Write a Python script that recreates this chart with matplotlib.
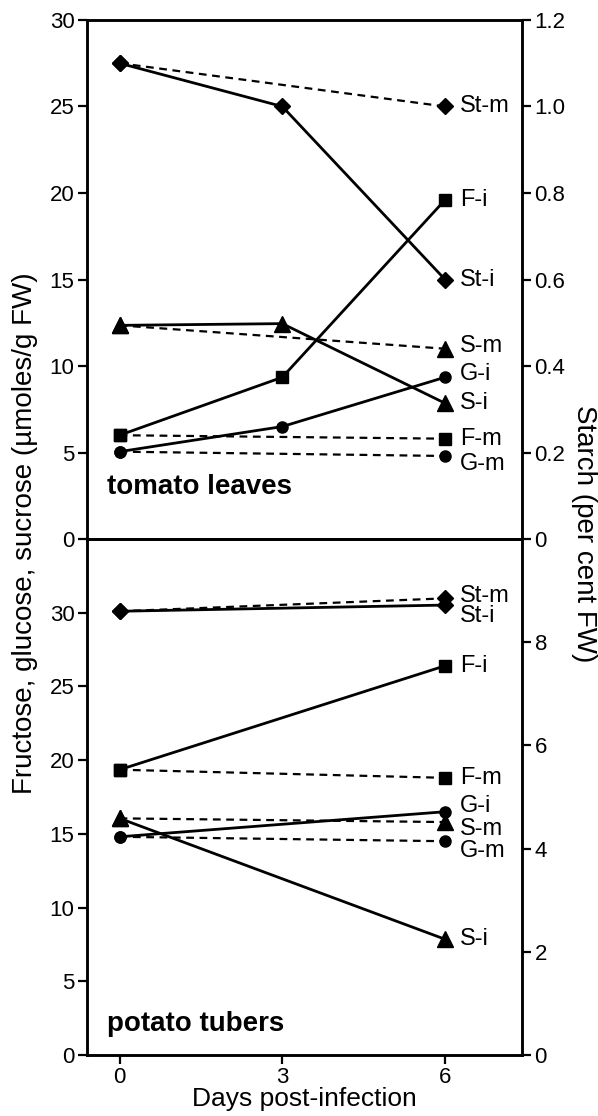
import numpy as np
import matplotlib.pyplot as plt

plt.rcParams['font.family'] = ['Liberation Sans', 'DejaVu Sans']

# days post-infection
days_i = [0, 3, 6]
days_m = [0, 6]
days_tub = [0, 6]

# tomato leaves: sugars (umoles/g FW), starch (per cent FW)
leaf_F_i = [6.0, 9.35, 19.6]
leaf_F_m = [6.0, 5.8]
leaf_G_i = [5.05, 6.5, 9.35]
leaf_G_m = [5.05, 4.8]
leaf_S_i = [12.35, 12.45, 7.85]
leaf_S_m = [12.35, 11.0]
leaf_St_i = [1.1, 1.0, 0.6]
leaf_St_m = [1.1, 1.0]

# potato tubers
tub_F_i = [19.35, 26.4]
tub_F_m = [19.35, 18.8]
tub_G_i = [14.8, 16.5]
tub_G_m = [14.8, 14.5]
tub_S_i = [16.05, 7.85]
tub_S_m = [16.05, 15.8]
tub_St_i = [8.6, 8.72]
tub_St_m = [8.6, 8.85]

left_ticks = [0, 5, 10, 15, 20, 25, 30]
leaf_right_ticks = [0, 0.2, 0.4, 0.6, 0.8, 1.0, 1.2]
leaf_right_labels = ['0', '0.2', '0.4', '0.6', '0.8', '1.0', '1.2']
tub_right_ticks = [0, 2, 4, 6, 8]
x_ticks = [0, 3, 6]

fig = plt.figure(figsize=(5.98, 11.16), dpi=100)
L, W = 0.1455, 0.7275
ax1 = fig.add_axes([L, 0.517, W, 0.4651])
ax2 = fig.add_axes([L, 0.0547, W, 0.4623])
ax1r = ax1.twinx()
ax2r = ax2.twinx()

solid = dict(color='black', lw=2.0, ls='-')
dash = dict(color='black', lw=1.6, dashes=(3.5, 2.5))
mk = {'F': dict(marker='s', ms=9), 'G': dict(marker='o', ms=8),
      'S': dict(marker='^', ms=12), 'St': dict(marker='D', ms=8)}

def series(ax, x, y, kind, style, label, dy=0):
    ax.plot(x, y, **style, **mk[kind], mfc='black', mec='black', clip_on=False)
    ax.annotate(label, xy=(x[-1], y[-1]), xytext=(11, dy), textcoords='offset points',
                va='center', ha='left', fontsize=17)

# top panel
series(ax1r, days_m, leaf_St_m, 'St', dash, 'St-m')
series(ax1r, days_i, leaf_St_i, 'St', solid, 'St-i')
series(ax1, days_m, leaf_S_m, 'S', dash, 'S-m', 1.7)
series(ax1, days_i, leaf_S_i, 'S', solid, 'S-i')
series(ax1, days_m, leaf_F_m, 'F', dash, 'F-m')
series(ax1, days_i, leaf_F_i, 'F', solid, 'F-i')
series(ax1, days_m, leaf_G_m, 'G', dash, 'G-m', -5.5)
series(ax1, days_i, leaf_G_i, 'G', solid, 'G-i', 2.6)

# bottom panel
series(ax2r, days_tub, tub_St_m, 'St', dash, 'St-m', 2)
series(ax2r, days_tub, tub_St_i, 'St', solid, 'St-i', -8)
series(ax2, days_tub, tub_F_m, 'F', dash, 'F-m')
series(ax2, days_tub, tub_F_i, 'F', solid, 'F-i')
series(ax2, days_tub, tub_S_m, 'S', dash, 'S-m', -4.8)
series(ax2, days_tub, tub_S_i, 'S', solid, 'S-i')
series(ax2, days_tub, tub_G_m, 'G', dash, 'G-m', -7.2)
series(ax2, days_tub, tub_G_i, 'G', solid, 'G-i', 4)

for ax in (ax1, ax2, ax1r, ax2r):
    ax.set_xlim(-0.6, 7.42)
    for s in ax.spines.values():
        s.set_linewidth(1.8)
    ax.tick_params(labelsize=16, length=6.5, width=1.6, pad=2.5)

ax1.set_ylim(0, 30)
ax1.set_yticks(left_ticks)
ax1r.set_ylim(0, 1.2)
ax1r.set_yticks(leaf_right_ticks)
ax1r.set_yticklabels(leaf_right_labels)
ax2.set_ylim(0, 35)
ax2.set_yticks(left_ticks)
ax2r.set_ylim(0, 10)
ax2r.set_yticks(tub_right_ticks)

ax1.tick_params(axis='x', bottom=False, labelbottom=False)
ax1r.tick_params(axis='x', bottom=False, labelbottom=False)
ax2.set_xticks(x_ticks)

fig.text(ax2.get_position().x0 + 0.5 * W, 0.009, 'Days post-infection',
         ha='center', va='baseline', fontsize=19)

ax1.text(0.046, 0.087, 'tomato leaves', transform=ax1.transAxes, fontsize=20,
         fontweight='bold', va='baseline')
ax2.text(0.046, 0.046, 'potato tubers', transform=ax2.transAxes, fontsize=20,
         fontweight='bold', va='baseline')

fig.text(0.042, 0.522, 'Fructose, glucose, sucrose (\u00b5moles/g FW)', rotation=90,
         ha='center', va='center', fontsize=20)
fig.text(0.976, 0.522, 'Starch (per cent FW)', rotation=270,
         ha='center', va='center', fontsize=20)

fig.savefig('out.png', dpi=100)
